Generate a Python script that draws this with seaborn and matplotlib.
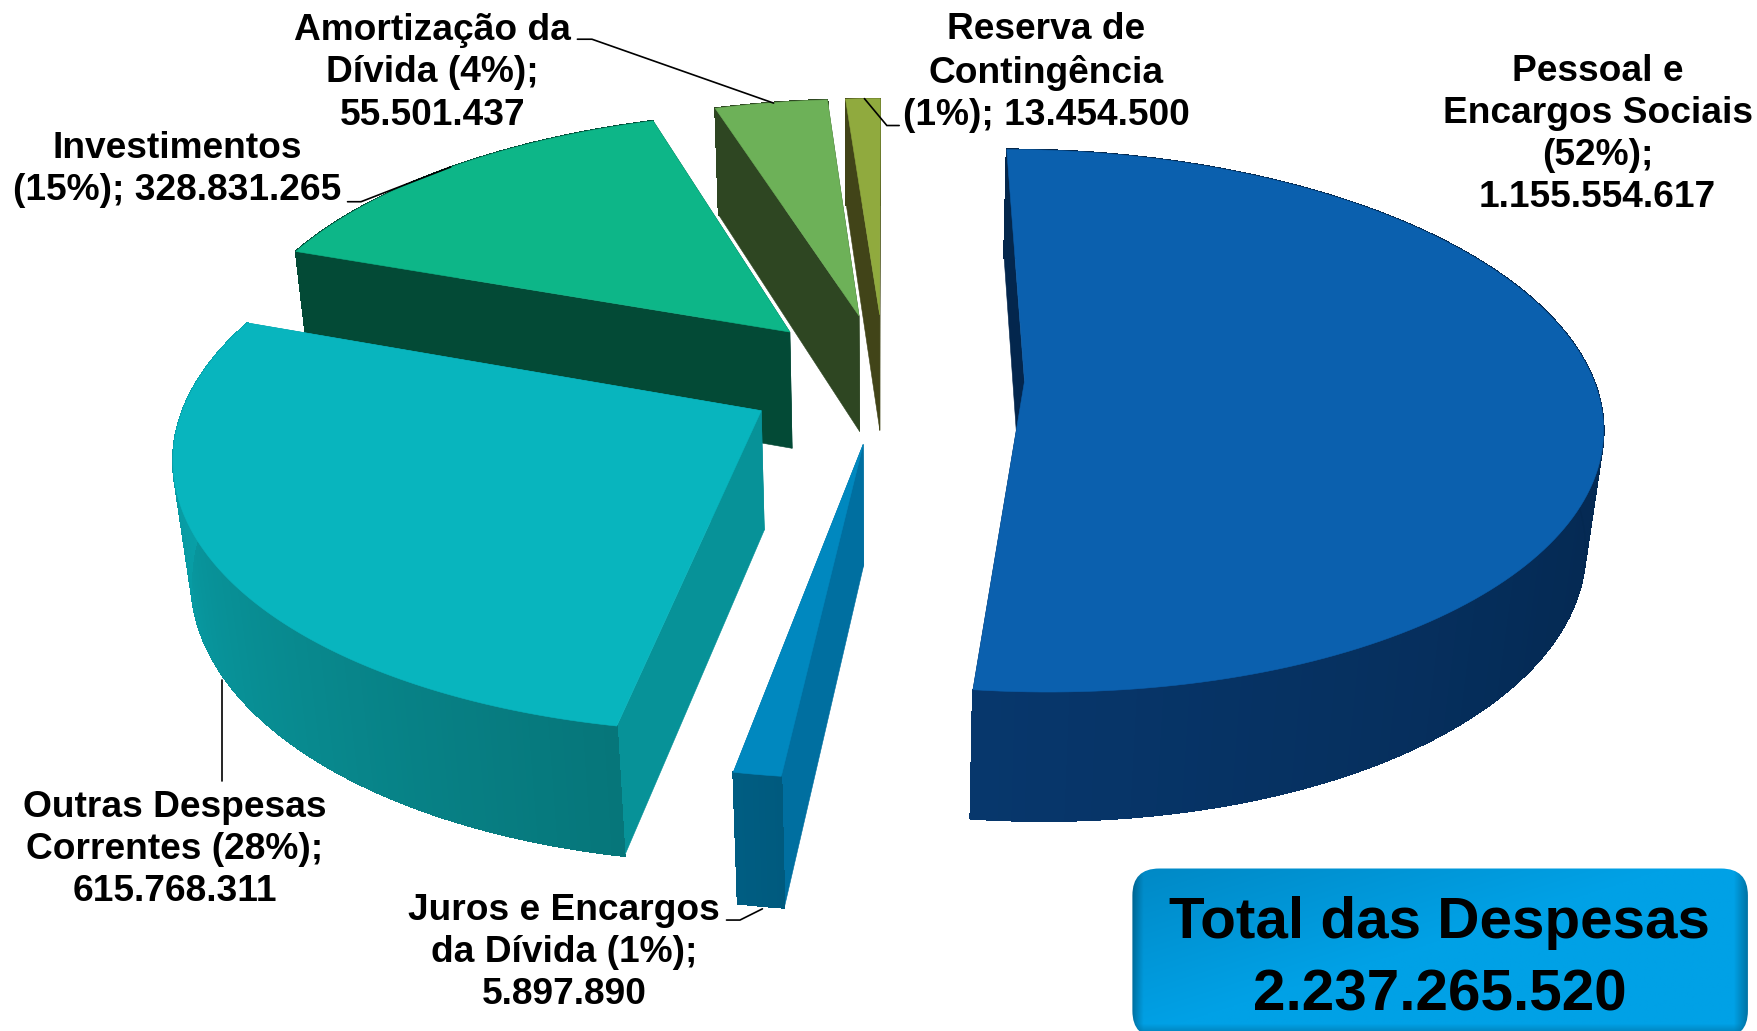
import numpy as np
import matplotlib
matplotlib.use("Agg")
import matplotlib.pyplot as plt
from matplotlib.patches import FancyBboxPatch, Polygon
from matplotlib.collections import PolyCollection, LineCollection
from matplotlib.colors import to_rgb
import seaborn as sns

# ---- data -------------------------------------------------------------
categories = ["Pessoal e Encargos Sociais", "Juros e Encargos da Dívida",
              "Outras Despesas Correntes", "Investimentos",
              "Amortização da Dívida", "Reserva de Contingência"]
values = ["1.155.554.617", "5.897.890", "615.768.311",
          "328.831.265", "55.501.437", "13.454.500"]
percent_labels = [52, 1, 28, 15, 4, 1]
# share of the circle as drawn in the picture (%)
drawn_shares = [51.8, 1.12, 27.53, 14.65, 3.75, 1.15]
total_label = "2.237.265.520"

# ---- style ------------------------------------------------------------
top_colors = ["#0B60AE", "#0088BF", "#08B5BE", "#0DB688", "#6DB158", "#90AA3E"]
radial_colors = ["#03264D", "#006FA0", "#079298", "#034A36", "#2E4622", "#414418"]
wall_ramps = [["#07376C", "#052B56", "#03264B", "#04274C"],
              ["#005D82", "#005A7E"],
              ["#08A8AF", "#089AA2", "#08898E", "#06767A"],
              ["#034A36", "#034A36"], ["#2E4622", "#2E4622"], ["#414418", "#414418"]]
draw_order = [5, 4, 3, 0, 2, 1]

sns.set_theme(style="white")
plt.rcParams["font.family"] = ["Liberation Sans", "DejaVu Sans"]
plt.rcParams["font.weight"] = "bold"

fig = plt.figure(figsize=(17.58, 10.31), dpi=100, facecolor="white")
ax = fig.add_axes([0, 0, 1, 1])
ax.set_xlim(0, 1568)
ax.set_ylim(920, 0)
ax.axis("off")

# ---- perspective projection of an exploded 3-D pie ---------------------
CX, CY, F, G, K, H, M, EXPLODE = 789, 337, 507, 236, 0.145, 108, 0.025, 0.246


def project(X, Y, z):
    w = 1 + K * Y + M * z
    return CX + F * X / w, CY + (-G * Y + H * z) / w


edges = np.concatenate([[0], np.cumsum(drawn_shares)]) / np.sum(drawn_shares) * 2 * np.pi
z_now = 2


def add_poly(pts, color):
    global z_now
    ax.add_patch(Polygon(pts, closed=True, facecolor=color, edgecolor=color,
                         lw=0.4, zorder=z_now))
    z_now += 1


for i in draw_order:
    a0, a1 = edges[i], edges[i + 1]
    mid = (a0 + a1) / 2
    ox, oy = EXPLODE * np.sin(mid), EXPLODE * np.cos(mid)
    th = np.linspace(a0, a1, 160)
    Xa, Ya = ox + np.sin(th), oy + np.cos(th)

    # radial faces
    for a in (a1, a0):
        xe, ye = ox + np.sin(a), oy + np.cos(a)
        p = [project(ox, oy, 0), project(xe, ye, 0), project(xe, ye, 1), project(ox, oy, 1)]
        add_poly(p, radial_colors[i])

    # outer wall, shaded along the arc (ramps run from far end to front edge)
    cols = sns.blend_palette(wall_ramps[i], n_colors=len(th) - 1)[::-1]
    xt, yt = project(Xa, Ya, 0)
    xb, yb = project(Xa, Ya, 1)
    quads = [[(xt[j], yt[j]), (xt[j + 1], yt[j + 1]), (xb[j + 1], yb[j + 1]), (xb[j], yb[j])]
             for j in range(len(th) - 1)]
    pc = PolyCollection(quads, facecolors=cols, edgecolors=cols, linewidths=0.8,
                        antialiaseds=False, zorder=z_now)
    ax.add_collection(pc)
    z_now += 1
    segs = [[(xb[j], yb[j]), (xb[j + 1], yb[j + 1])] for j in range(len(th) - 1)]
    ax.add_collection(LineCollection(segs, colors=cols, linewidths=0.8, zorder=z_now))
    z_now += 1

    # top face
    x0, y0 = project(ox, oy, 0)
    add_poly(np.vstack([[x0, y0], np.column_stack([xt, yt])]), top_colors[i])

# ---- data labels ------------------------------------------------------
label_text = [
    f"Pessoal e\nEncargos Sociais\n({percent_labels[0]}%);\n{values[0]}",
    f"Juros e Encargos\nda Dívida ({percent_labels[1]}%);\n{values[1]}",
    f"Outras Despesas\nCorrentes ({percent_labels[2]}%);\n{values[2]}",
    f"Investimentos\n({percent_labels[3]}%); {values[3]}",
    f"Amortização da\nDívida ({percent_labels[4]}%);\n{values[4]}",
    f"Reserva de\nContingência\n({percent_labels[5]}%); {values[5]}",
]
label_xy = [(1425, 120), (503, 850), (156, 758), (158, 151), (386, 65), (933, 65)]
leaders = [None,
           [(648, 821), (660, 821), (680, 811)],
           [(198, 697), (198, 607)],
           [(310, 180), (322, 180), (402, 149)],
           [(515, 35), (528, 35), (690, 92)],
           [(771, 88), (791, 112), (802, 112)]]

for txt, (x, y), ld in zip(label_text, label_xy, leaders):
    ax.text(x, y, txt, ha="center", va="center", ma="center", fontsize=26.7,
            fontweight="bold", color="black", linespacing=1.27, zorder=200)
    if ld is not None:
        xs, ys = zip(*ld)
        ax.plot(xs, ys, color="black", lw=1.2, zorder=199, solid_joinstyle="miter")

# ---- total box --------------------------------------------------------
bx0, by0, bx1, by1 = 1010, 775, 1559, 926
rad = 24
ny, nx = 150, 548
yy, xx = np.mgrid[0:1:ny * 1j, 0:1:nx * 1j]
t = np.clip(0.35 + 0.75 * xx + 0.65 * yy, 0, 1) ** 0.9
dark, light = np.array(to_rgb("#0079B0")), np.array(to_rgb("#00A1E6"))
img = dark[None, None, :] * (1 - t[..., None]) + light[None, None, :] * t[..., None]
edge_l = np.clip((xx * nx) / 10, 0, 1)
edge_r = np.clip(((1 - xx) * nx) / 12, 0, 1)
edge_b = np.clip(((1 - yy) * ny) / 12, 0, 1)
shade = 0.72 + 0.28 * (edge_l * edge_r * edge_b)
img = img * shade[..., None]

box = FancyBboxPatch((bx0 + rad, by0 + rad), bx1 - bx0 - 2 * rad, by1 - by0 - 2 * rad,
                     boxstyle=f"round,pad={rad},rounding_size={rad}",
                     facecolor="none", edgecolor="none", zorder=150)
ax.add_patch(box)
im = ax.imshow(img, extent=(bx0, bx1, by1, by0), aspect="auto", zorder=151, interpolation="bilinear")
im.set_clip_path(box)
ax.set_xlim(0, 1568)
ax.set_ylim(920, 0)

ax.text(1284, 824, "Total das Despesas", ha="center", va="center", fontsize=42,
        fontweight="bold", color="black", zorder=201)
ax.text(1284, 888, total_label, ha="center", va="center", fontsize=42,
        fontweight="bold", color="black", zorder=201)

fig.savefig("out.png", dpi=100, facecolor="white")
